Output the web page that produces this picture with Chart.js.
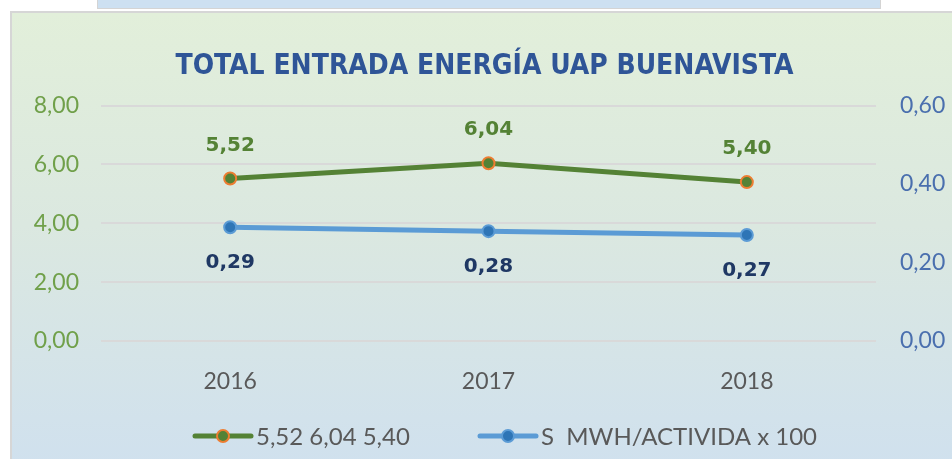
<!DOCTYPE html>
<html>
<head>
<meta charset="utf-8">
<script src="https://cdn.jsdelivr.net/npm/chart.js@4/dist/chart.umd.min.js"></script>
<style>
  html, body { margin: 0; padding: 0; background: #fff; width: 952px; height: 459px; overflow: hidden; }
  #topBox { position: absolute; left: 97px; top: -2px; width: 782px; height: 9px; background: #cde0f1; border: 1px solid #d4d4d4; }
  #panel { position: absolute; left: 10px; top: 11px; width: 960px; height: 470px;
           border-left: 2px solid #d6d6d6; border-top: 2px solid #d6d6d6;
           background: linear-gradient(to bottom, #e2efda 0%, #dbe8e0 45%, #cfe0ef 100%); }
  #wrap { position: absolute; left: 12px; top: 0; width: 945px; height: 459px; }
</style>
</head>
<body>
<div id="topBox"></div>
<div id="panel"></div>
<div id="wrap"><canvas id="chart"></canvas></div>
<script>
const years = ['2016', '2017', '2018'];
const energia = [5.52, 6.04, 5.40];
const mwhActividad = [0.29, 0.28, 0.27];
const legendNames = ['5,52 6,04 5,40', 'S  MWH/ACTIVIDA x 100'];

const GREEN = '#548235';
const ORANGE = '#ed7d31';
const BLUE = '#5b9bd5';
const BLUE_DOT = '#2e75b6';
const NAVY = '#1f3864';

function fmt(v) {
  return v.toFixed(2).replace('.', ',');
}

// value labels above / below the points
const valueLabels = {
  id: 'valueLabels',
  afterDatasetsDraw(chart) {
    const ctx = chart.ctx;
    ctx.save();
    ctx.font = 'bold 20px "DejaVu Sans"';
    ctx.textAlign = 'center';
    ctx.textBaseline = 'middle';
    chart.data.datasets.forEach((ds, i) => {
      const meta = chart.getDatasetMeta(i);
      meta.data.forEach((pt, j) => {
        ctx.fillStyle = ds.labelColor;
        ctx.fillText(fmt(ds.data[j]), pt.x, pt.y + ds.labelOffset);
      });
    });
    ctx.restore();
  }
};

// legend with a line + marker sample
const lineLegend = {
  id: 'lineLegend',
  afterDraw(chart, args, opts) {
    const ctx = chart.ctx;
    ctx.save();
    ctx.font = '24px Lato';
    ctx.textBaseline = 'middle';
    chart.data.datasets.forEach((ds, i) => {
      const x = opts.xs[i] - 12;
      const y = opts.y;
      ctx.strokeStyle = ds.borderColor;
      ctx.lineWidth = 5;
      ctx.lineCap = 'round';
      ctx.beginPath();
      ctx.moveTo(x + 2, y);
      ctx.lineTo(x + 58, y);
      ctx.stroke();
      ctx.beginPath();
      ctx.arc(x + 30, y, 6, 0, Math.PI * 2);
      ctx.fillStyle = ds.pointBackgroundColor;
      ctx.fill();
      ctx.lineWidth = 2;
      ctx.strokeStyle = ds.pointBorderColor;
      ctx.stroke();
      ctx.fillStyle = '#595959';
      ctx.fillText(legendNames[i], x + 63, y + 1);
    });
    ctx.restore();
  }
};

new Chart(document.getElementById('chart'), {
  type: 'line',
  data: {
    labels: years,
    datasets: [
      {
        label: legendNames[0],
        data: energia,
        yAxisID: 'y',
        borderColor: GREEN,
        borderWidth: 5,
        pointRadius: 6,
        pointBackgroundColor: GREEN,
        pointBorderColor: ORANGE,
        pointBorderWidth: 2,
        labelColor: GREEN,
        labelOffset: -33
      },
      {
        label: legendNames[1],
        data: mwhActividad,
        yAxisID: 'y1',
        borderColor: BLUE,
        borderWidth: 5,
        pointRadius: 6,
        pointBackgroundColor: BLUE_DOT,
        pointBorderColor: BLUE,
        pointBorderWidth: 2,
        labelColor: NAVY,
        labelOffset: 36
      }
    ]
  },
  options: {
    responsive: true,
    maintainAspectRatio: false,
    animation: false,
    layout: { padding: { bottom: 58 } },
    plugins: {
      legend: { display: false },
      tooltip: { enabled: false },
      title: {
        display: true,
        text: 'TOTAL ENTRADA ENERGÍA UAP BUENAVISTA',
        color: '#2f5597',
        font: { family: '"Liberation Sans Narrow", "DejaVu Sans Condensed", sans-serif', size: 28, weight: 'bold' },
        padding: { top: 50, bottom: 22 }
      },
      lineLegend: { xs: [193, 478], y: 436 }
    },
    scales: {
      x: {
        offset: true,
        grid: { display: false },
        border: { display: false },
        ticks: { color: '#595959', font: { family: 'Lato', size: 23 }, padding: 19 },
        afterFit(scale) { scale.height = 60; }
      },
      y: {
        position: 'left',
        min: 0, max: 8,
        ticks: { stepSize: 2, color: '#70a04a', font: { family: 'Lato', size: 23 }, padding: 22,
                 callback: v => fmt(v) },
        grid: { color: '#d9d9d9', lineWidth: 2, drawTicks: false },
        border: { display: false },
        afterFit(scale) { scale.width = 89; }
      },
      y1: {
        position: 'right',
        min: 0, max: 0.6,
        ticks: { stepSize: 0.2, color: '#4a6fae', font: { family: 'Lato', size: 23 }, padding: 24,
                 callback: v => fmt(v) },
        grid: { drawOnChartArea: false, drawTicks: false },
        border: { display: false },
        afterFit(scale) { scale.width = 81; }
      }
    }
  },
  plugins: [valueLabels, lineLegend]
});
</script>
</body>
</html>
